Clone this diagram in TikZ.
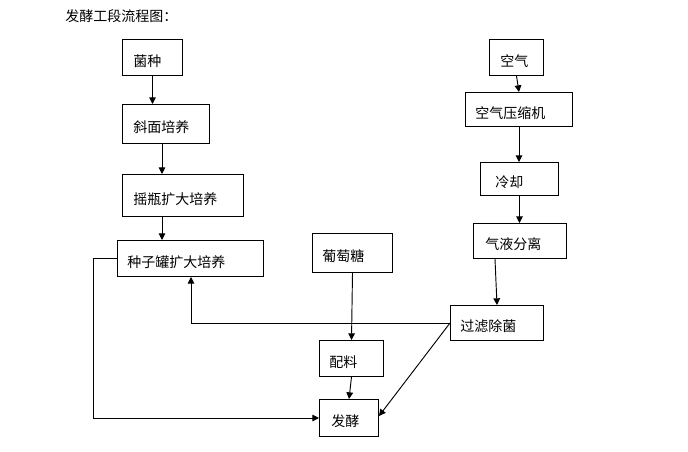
\documentclass[tikz,border=0pt]{standalone}
\usepackage{fontspec}
\setmainfont{Noto Sans CJK SC}
\usetikzlibrary{arrows.meta,calc}
\tikzset{
  box/.style={draw=black, line width=0.75pt, inner sep=0pt, anchor=north west},
  lbl/.style={anchor=west, inner sep=0pt, font=\fontsize{10.5pt}{12pt}\selectfont},
  arr/.style={draw=black, line width=0.7pt, -{Triangle[length=5pt,width=5pt]}},
}
% \bx{name}{left}{top}{right}{bottom}{text}{text pad}
\newcommand{\bx}[7]{%
  \node[box, minimum width={0.75pt*(#4-#2)}, minimum height={0.75pt*(#5-#3)}] (#1) at (#2,#3) {};
  \node[lbl] (#1-t) at ([xshift={0.75pt*#7}, yshift=-2.6pt]#1.west) {#6};
}
\begin{document}
\begin{tikzpicture}[x=0.75pt, y=-0.75pt]
\useasboundingbox (0,0) rectangle (688,452);
\node[lbl] (title) at (65,16) {发酵工段流程图：};
\bx{jz}{122}{39}{182}{75}{菌种}{11}
\bx{xm}{122}{104}{209}{143}{斜面培养}{11}
\bx{yp}{122}{174}{243}{216}{摇瓶扩大培养}{11}
\bx{zz}{117}{240}{263}{276}{种子罐扩大培养}{10}
\bx{kq}{489}{39}{543}{75}{空气}{11}
\bx{ys}{465}{92}{572}{126}{空气压缩机}{10}
\bx{lq}{480}{162}{558}{195}{冷却}{15}
\bx{qy}{473}{223}{566}{258}{气液分离}{12}
\bx{pt}{312}{233}{392}{272}{葡萄糖}{10}
\bx{gl}{450}{305}{543}{340}{过滤除菌}{10}
\bx{pl}{319}{340}{383}{376}{配料}{10}
\bx{fj}{319}{399}{378}{436}{发酵}{12}
\coordinate (xmout) at ($(xm.south west)+(40,0)$);
\coordinate (ypout) at ($(yp.south west)+(40,0)$);
\coordinate (qyout) at ($(qy.south west)+(22,0)$);
\coordinate (glin) at ($(gl.north west)+(47,0)$);
\coordinate (zzin) at ($(zz.south west)+(74,0)$);
\coordinate (fjin) at ($(fj.east)+(0,-2)$);
% left column
\draw[arr] (jz.south) -- (jz.south |- xm.north);
\draw[arr] (xmout) -- (xmout |- yp.north);
\draw[arr] (ypout) -- (ypout |- zz.north);
% right column
\draw[arr] (kq.south) -- (ys.north);
\draw[arr] (ys.south) -- (ys.south |- lq.north);
\draw[arr] (lq.south) -- (lq.south |- qy.north);
\draw[arr] (qyout) -- (glin);
% middle
\draw[arr] (pt.south) -- (pl.north);
\draw[arr] (pl.south) -- (fj.north);
% cross links
\draw[arr] (gl.west) -| (zzin);
\draw[arr] (gl.west) -- (fjin);
\draw[arr] (zz.west) -- ++(-24,0) |- (fj.west);
\end{tikzpicture}
\end{document}
